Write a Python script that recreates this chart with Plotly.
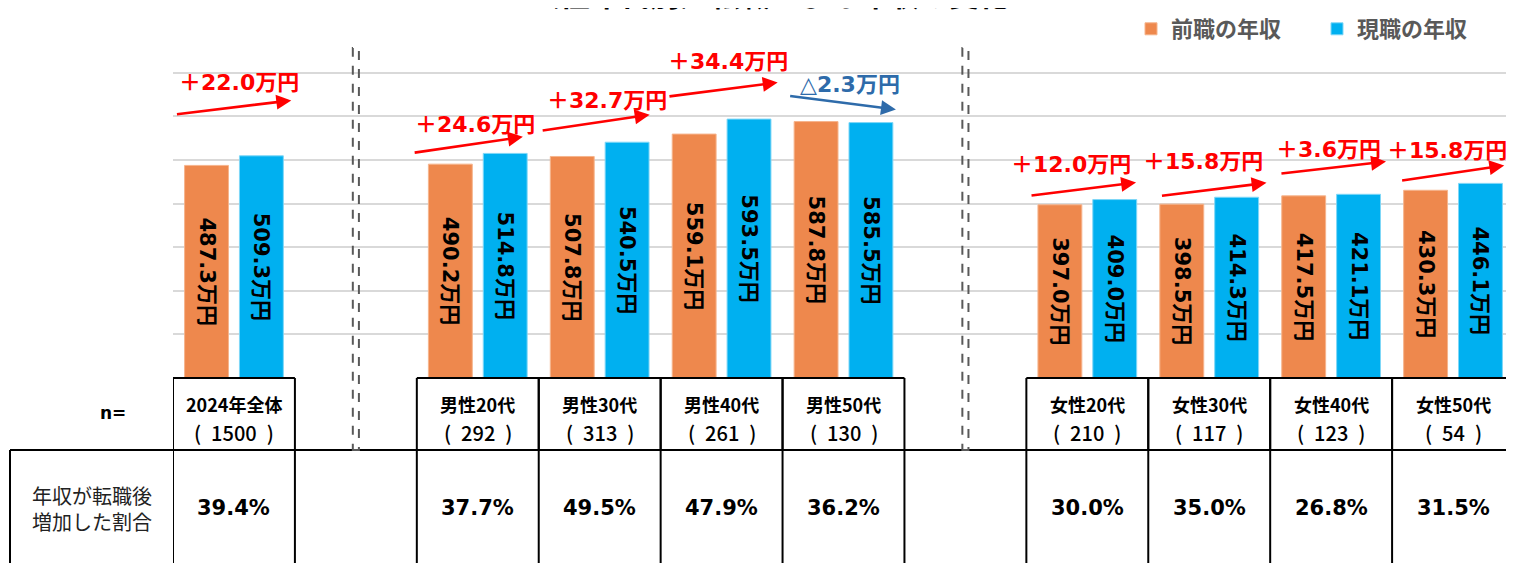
import plotly.graph_objects as go

# ---------------- data ----------------
categories = ["2024年全体", "男性20代", "男性30代", "男性40代", "男性50代",
              "女性20代", "女性30代", "女性40代", "女性50代"]
sample_n = [1500, 292, 313, 261, 130, 210, 117, 123, 54]
prev_income = [487.3, 490.2, 507.8, 559.1, 587.8, 397.0, 398.5, 417.5, 430.3]
curr_income = [509.3, 514.8, 540.5, 593.5, 585.5, 409.0, 414.3, 421.1, 446.1]
increase_ratio = [39.4, 37.7, 49.5, 47.9, 36.2, 30.0, 35.0, 26.8, 31.5]
series_names = ["前職の年収", "現職の年収"]
grid_ticks = [0, 100, 200, 300, 400, 500, 600, 700]

# ---------------- layout helpers ----------------
W, H = 1514, 563
OFF = 8                                      # page body margin
slots = [0, 2, 3, 4, 5, 7, 8, 9, 10]          # slot index of each category (1 and 6 are gaps)
separators = [1, 6]
ORANGE, BLUE = "#EE884D", "#00B0F0"
RED, NAVY = "#FF0000", "#2E6BAA"
FONT = "'DejaVu Sans', 'Noto Sans CJK JP', sans-serif"
JP = "'Noto Sans CJK JP', sans-serif"


def py(px):  # page pixel row -> paper y
    return (H - (px - OFF)) / H


def pxx(px):  # page pixel column -> paper x
    return (px - OFF) / W


# arrow geometry: (tail dx, tail dy over prev, head dx, head dy over curr)
arrow_geom = [(-0.48, 117, 0.47, 127), (-0.53, 26, 0.37, 38), (-0.48, 59, 0.41, 63),
              (-0.44, 86, 0.46, 84), (-0.45, 59, 0.43, 30), (-0.47, 21, 0.40, 39),
              (-0.40, 19, 0.47, 33), (-0.42, 51, 0.45, 75), (-0.43, 22, 0.42, 41)]
# diff label position: (dx from slot, y in axis units)
label_pos = [(0.04, 677), (-0.02, 581), (0.06, 636), (0.05, 725), (0.05, 672),
             (-0.13, 489), (-0.05, 496), (-0.02, 523), (-0.05, 521)]

fig = go.Figure()
for vals, name, col, edge in [(prev_income, series_names[0], ORANGE, "#F6B48C"),
                              (curr_income, series_names[1], BLUE, "#7FD7F7")]:
    fig.add_trace(go.Bar(
        x=slots, y=vals, name=f"<b>{name}</b>",
        marker=dict(color=col, line=dict(color=edge, width=1)),
        text=[f"{v:.1f}万円" for v in vals], textposition="inside",
        insidetextanchor="middle", textangle=90, constraintext="none",
        textfont=dict(family=FONT, size=21, color="black", weight="bold"),
    ))

annotations = []
shapes = []

# title (cut off at the top as in the original)
annotations.append(dict(text="<b>（性年代別）転職による年収の変化</b>", xref="paper", yref="paper",
                        x=pxx(770), y=py(17), xanchor="center", yanchor="bottom", showarrow=False,
                        font=dict(family=JP, size=30, color="black")))

# difference arrows and labels
for i, s in enumerate(slots):
    d = round(curr_income[i] - prev_income[i], 1)
    col = RED if d >= 0 else NAVY
    txt = f"<b>＋{d:.1f}万円</b>" if d >= 0 else f"<b>△{abs(d):.1f}万円</b>"
    tdx, tdy, hdx, hdy = arrow_geom[i]
    annotations.append(dict(x=s + hdx, y=curr_income[i] + hdy, ax=s + tdx, ay=prev_income[i] + tdy,
                            xref="x", yref="y", axref="x", ayref="y", text="", showarrow=True,
                            arrowhead=2, arrowsize=1.15, arrowwidth=2.6, arrowcolor=col))
    ldx, ly = label_pos[i]
    annotations.append(dict(x=s + ldx, y=ly, xref="x", yref="y", text=txt, showarrow=False,
                            xanchor="center", yanchor="middle",
                            font=dict(family=FONT, size=22, color=col)))

# ---------------- table ----------------
TOP, DIV, BOT = py(378), py(450), py(640)
LINE = dict(color="black", width=2)
for a, b in [(-0.5, 0.5), (1.5, 5.5), (6.5, 10.5)]:
    shapes.append(dict(type="line", xref="x", yref="paper", x0=a, x1=b, y0=TOP, y1=TOP, line=LINE))
edges = [-0.5, 0.5, 1.5, 2.5, 3.5, 4.5, 5.5, 6.5, 7.5, 8.5, 9.5, 10.5]
for e in edges:
    shapes.append(dict(type="line", xref="x", yref="paper", x0=e, x1=e, y0=DIV, y1=BOT, line=LINE))
for s in slots:
    for e in (s - 0.5, s + 0.5):
        shapes.append(dict(type="line", xref="x", yref="paper", x0=e, x1=e, y0=TOP, y1=DIV, line=LINE))
shapes.append(dict(type="line", xref="x", yref="paper", x0=-0.5, x1=10.5, y0=DIV, y1=DIV, line=LINE))
shapes.append(dict(type="line", xref="paper", yref="paper", x0=pxx(10), x1=pxx(174), y0=DIV, y1=DIV, line=LINE))
shapes.append(dict(type="line", xref="paper", yref="paper", x0=pxx(10), x1=pxx(10), y0=DIV, y1=BOT, line=LINE))

# dashed separators
for s in separators:
    shapes.append(dict(type="rect", xref="x", yref="paper", x0=s - 0.025, x1=s + 0.025,
                       y0=py(450), y1=py(48), line=dict(color="#595959", width=2, dash="dash")))

for i, s in enumerate(slots):
    annotations.append(dict(x=s, y=py(404), xref="x", yref="paper", showarrow=False, xanchor="center",
                            yanchor="middle", text=f"<b>{categories[i]}</b>",
                            font=dict(family=JP, size=18, color="black")))
    annotations.append(dict(x=s, y=py(432), xref="x", yref="paper", showarrow=False, xanchor="center",
                            yanchor="middle", text=f"(\u2002{sample_n[i]}\u2002)",
                            font=dict(family=JP, size=20, color="black", weight=500)))
    annotations.append(dict(x=s, y=py(508), xref="x", yref="paper", showarrow=False, xanchor="center",
                            yanchor="middle", text=f"<b>{increase_ratio[i]:.1f}%</b>",
                            font=dict(family=FONT, size=21, color="black")))

annotations.append(dict(x=pxx(113), y=py(413), xref="paper", yref="paper", showarrow=False,
                        xanchor="center", yanchor="middle",
                        text="<b>n=</b>", font=dict(family=FONT, size=17, color="black")))
annotations.append(dict(x=pxx(92), y=py(508), xref="paper", yref="paper", showarrow=False,
                        xanchor="center", yanchor="middle",
                        text="年収が転職後<br>増加した割合", align="center",
                        font=dict(family=JP, size=20, color="#222222")))

fig.update_layout(
    width=W, height=H, margin=dict(l=0, r=0, t=0, b=0, autoexpand=False),
    paper_bgcolor="white", plot_bgcolor="white",
    barmode="group", bargap=0.1, bargroupgap=0.2,
    xaxis=dict(domain=[pxx(173), pxx(1514)], range=[-0.5, 10.5], showgrid=False, showticklabels=False,
               zeroline=False, showline=False, ticks=""),
    yaxis=dict(domain=[py(378), py(29)], range=[0, 800], tickvals=grid_ticks, showticklabels=False,
               showgrid=True, gridcolor="#D9D9D9", gridwidth=1.5, zeroline=False, showline=False, ticks=""),
    legend=dict(orientation="h", x=pxx(1131), y=1.0, xanchor="left", yanchor="top",
                font=dict(family=JP, size=22, color="#595959"), entrywidth=141, entrywidthmode="pixels",
                bgcolor="rgba(0,0,0,0)"),
    annotations=annotations, shapes=shapes,
)

fig.write_html("out.html")
